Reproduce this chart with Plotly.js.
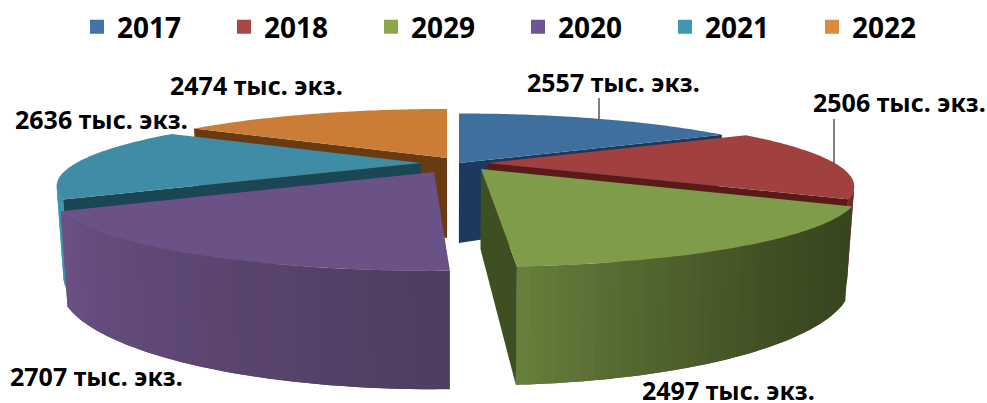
<!DOCTYPE html>
<html><head><meta charset="utf-8">
<script src="https://cdn.plot.ly/plotly-3.0.1.min.js"></script>
<style>html,body{margin:0;padding:0;background:#fff}#c{width:987px;height:403px}</style>
</head><body><div id="c"></div>
<script>
// ---- data ----
const categories = ['2017','2018','2029','2020','2021','2022'];
const values = [2557,2506,2497,2707,2636,2474];
const unit = ' тыс. экз.';
// ---- styling ----
const legendColors = ['#4672AA','#AA4644','#8AA64B','#6F5493','#3F98B3','#DB8A3D'];
const topColors    = ['#3F6F9F','#A0413F','#7F9C4A','#6A5186','#3F8CA6','#CB7D38'];
const cutColors    = ['#1C3A60','#5A1A1A','#3E4F22','#4A3A5C','#1B4653','#6A3B13'];
const wallStart    = ['#1C3A60','#6E2422','#38461F','#4F3D60','#3C94AE','#6A3B13'];
const wallEnd      = ['#1C3A60','#7A2A28','#667F3C','#6B5085','#3C94AE','#6A3B13'];
const wallGamma    = [1,1,2,1,1,1];
// ---- projection of the exploded tilted pie, in page pixels ----
const apexX = [459,488,481,434,421,447];
const apexY = [163,163,169,172,163,158];
const radiusScale = [1.01,0.99,1.02,1.03,0.985,1];
const nudgeStart = [0,0,0,1.3,0.8,0];
const nudgeEnd   = [0,0,-0.9,0,0,0];
const R = 350, RY = 64.9, K = 0.324, DEPTH = 80, CX = 450, BOTTOM_X = 0.983;
const SIL_A = 109, SIL_B = 251; // outer wall faces the viewer only between these angles
const labelX = [526,812,14,169,9,641];
const labelY = [82,102,119,85,376,390];
const labelOrder = [0,1,4,5,3,2]; // value index for each entry in labelX/labelY
const leaderX = [[599,599],[834,834]];
const leaderY = [[98,119],[119,163]];

function project(i, deg){
  const t = deg*Math.PI/180, X = Math.sin(t), Y = -Math.cos(t), s = 1/(1-K*Y), r = radiusScale[i];
  const x = apexX[i] + X*R*s*r, y = apexY[i] + Y*RY*s*r, h = DEPTH*s;
  return {x, y, bx: CX+(x-CX)*BOTTOM_X, by: y+h};
}
function apex(i){ return {x:apexX[i], y:apexY[i], bx:CX+(apexX[i]-CX)*BOTTOM_X, by:apexY[i]+DEPTH}; }
function hex(c){ return [1,3,5].map(k=>parseInt(c.substr(k,2),16)); }
function mix(a,b,t){ const A=hex(a),B=hex(b); return 'rgb('+A.map((v,k)=>Math.round(v+(B[k]-v)*t)).join(',')+')'; }
function poly(xs,ys,color){
  return {type:'scatter',mode:'none',x:xs,y:ys,fill:'toself',fillcolor:color,hoverinfo:'skip',showlegend:false};
}
const total = values.reduce((a,b)=>a+b,0);
const starts=[]; let acc=0;
values.forEach(v=>{starts.push(acc/total*360); acc+=v;});
const ends = starts.map((s,i)=>(i<values.length-1?starts[i+1]:360)+nudgeEnd[i]);
starts.forEach((s,i)=>{starts[i]=s+nudgeStart[i];});

const traces=[];
const drawOrder=[5,0,4,1,3,2];
drawOrder.forEach(i=>{
  const a=apex(i), p0=project(i,starts[i]), p1=project(i,ends[i]);
  // outer wall, as overlapping shaded strips
  const w0=Math.max(starts[i],SIL_A), w1=Math.min(ends[i],SIL_B);
  if(w1>w0){
    const n=Math.max(2,Math.ceil((w1-w0)/1.5));
    for(let k=0;k<n;k++){
      const d0=w0+(w1-w0)*k/n, d1=Math.min(w1,d0+(w1-w0)/n*2);
      const dm=(d0+d1)/2;
      const q0=project(i,d0), qm=project(i,dm), q1=project(i,d1);
      traces.push(poly([q0.x,qm.x,q1.x,q1.bx,qm.bx,q0.bx],[q0.y,qm.y,q1.y,q1.by,qm.by,q0.by],
        mix(wallStart[i],wallEnd[i],Math.pow(k/(n-1),wallGamma[i]))));
    }
  }
  // the cut face that looks toward the viewer
  if(Math.sin(starts[i]*Math.PI/180)<-1e-6) traces.push(poly([a.x,p0.x,p0.bx,a.bx],[a.y,p0.y,p0.by,a.by],cutColors[i]));
  if(Math.sin(ends[i]*Math.PI/180)>1e-6) traces.push(poly([a.x,p1.x,p1.bx,a.bx],[a.y,p1.y,p1.by,a.by],cutColors[i]));
  // top face
  const xs=[a.x], ys=[a.y];
  for(let d=starts[i];d<ends[i];d+=1){const q=project(i,d);xs.push(q.x);ys.push(q.y);}
  xs.push(p1.x);ys.push(p1.y);xs.push(a.x);ys.push(a.y);
  traces.push(poly(xs,ys,topColors[i]));
});
leaderX.forEach((lx,j)=>traces.push({type:'scatter',mode:'lines',x:lx,y:leaderY[j],
  line:{color:'#000',width:1},hoverinfo:'skip',showlegend:false}));
categories.forEach((c,i)=>traces.push({type:'scatter',mode:'markers',x:[null],y:[null],name:c,
  marker:{symbol:'square',size:16,color:legendColors[i],line:{color:legendColors[i],width:2}},hoverinfo:'skip'}));

const font='"Noto Sans", sans-serif';
const annotations=labelOrder.map((vi,j)=>({xref:'x',yref:'y',x:labelX[j],y:labelY[j],xanchor:'left',yanchor:'middle',
  showarrow:false,height:24,borderpad:0,text:'<b>'+values[vi]+unit+'</b>',font:{family:font,size:25,color:'#000'}}));

Plotly.newPlot('c',traces,{
  width:987,height:403,margin:{l:0,r:0,t:0,b:0},paper_bgcolor:'#fff',plot_bgcolor:'#fff',
  hovermode:false,
  xaxis:{range:[0,987],visible:false,fixedrange:true},
  yaxis:{range:[403,0],visible:false,fixedrange:true},
  legend:{orientation:'h',x:77/987,xanchor:'left',y:1-27/403,yanchor:'middle',bgcolor:'rgba(0,0,0,0)',
    entrywidth:102,entrywidthmode:'pixels',itemsizing:'constant',itemclick:false,itemdoubleclick:false,
    font:{family:font,size:28,color:'#000',weight:700}},
  annotations:annotations
},{displayModeBar:false,staticPlot:true});
</script></body></html>
